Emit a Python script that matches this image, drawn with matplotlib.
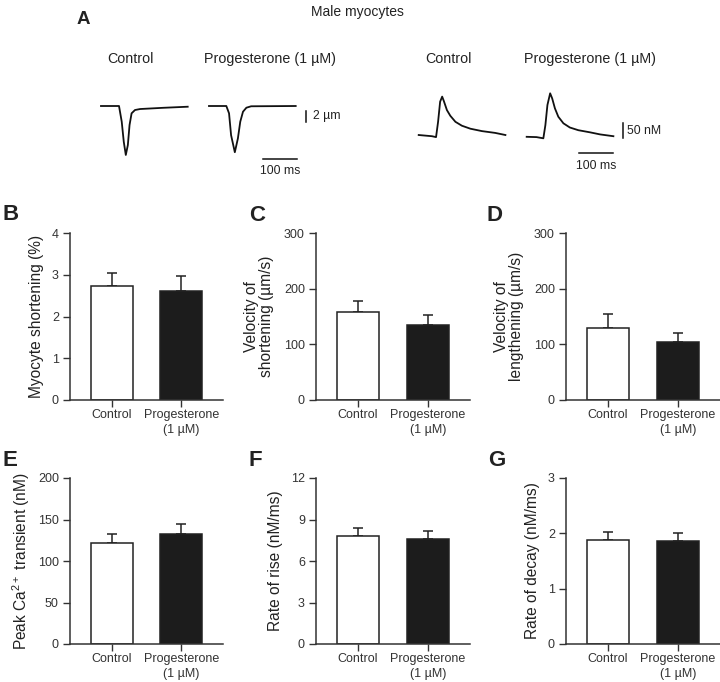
import matplotlib
matplotlib.use('Agg')
import matplotlib.pyplot as plt

plt.rcParams['font.family'] = ['Liberation Sans', 'DejaVu Sans']
plt.rcParams['mathtext.default'] = 'regular'
plt.rcParams['text.color'] = '#222222'
plt.rcParams['axes.labelcolor'] = '#222222'
plt.rcParams['xtick.color'] = '#333333'
plt.rcParams['ytick.color'] = '#333333'

# ---- data -----------------------------------------------------------------
groups = ['Control', 'Progesterone\n(1 µM)']

shortening_mean = [2.72, 2.62]
shortening_sem = [0.32, 0.36]
vel_short_mean = [158, 135]
vel_short_sem = [19, 17]
vel_length_mean = [130, 104]
vel_length_sem = [25, 17]
peak_ca_mean = [122, 133]
peak_ca_sem = [10, 12]
rise_mean = [7.84, 7.58]
rise_sem = [0.58, 0.60]
decay_mean = [1.88, 1.87]
decay_sem = [0.15, 0.14]

# representative traces (time in ms, cell length change in um / Ca in nM)
short_ctrl_t = [0, 53, 61, 67, 73, 79, 84, 90, 100, 115, 182, 255]
short_ctrl_y = [0, 0, -2.85, -6.5, -8.9, -7.1, -3.45, -1.33, -0.73, -0.55, -0.33, -0.13]
short_prog_t = [0, 51, 59, 65, 76, 85, 92, 100, 110, 124, 255]
short_prog_y = [0, 0, -1.33, -5.3, -8.4, -5.9, -2.85, -1.04, -0.31, -0.05, 0]
ca_ctrl_t = [0, 39, 51, 57, 63, 69, 74, 83, 93, 108, 127, 152, 186, 225, 255]
ca_ctrl_y = [0, -4, -7, 44, 111, 128, 113, 83, 64, 44, 31, 21, 13, 7, 0]
ca_prog_t = [0, 29, 49, 55, 61, 69, 75, 83, 93, 108, 127, 152, 186, 216, 255]
ca_prog_y = [0, -1, -5, 39, 106, 145, 128, 95, 67, 45, 31, 22, 15, 8, 2]

W, H = 720, 682
fig = plt.figure(figsize=(W / 100, H / 100), dpi=100)


def px_axes(x0, y0, x1, y1):
    return fig.add_axes([x0 / W, 1 - y1 / H, (x1 - x0) / W, (y1 - y0) / H])


def ftext(x, y, s, **kw):
    fig.text(x / W, 1 - y / H, s, **kw)


# ---- panel A --------------------------------------------------------------
ftext(77, 19, 'A', fontsize=13.5, fontweight='bold', va='center', ha='left')
ftext(357, 12, 'Male myocytes', fontsize=10, ha='center', va='center')
for xc, s in [(130, 'Control'), (270, 'Progesterone (1 µM)'),
              (448, 'Control'), (590, 'Progesterone (1 µM)')]:
    ftext(xc, 59, s, fontsize=10.3, ha='center', va='center')

offset = 317.6
lw_tr = 1.3

ax = px_axes(95, 95, 340, 180)
ax.plot(short_ctrl_t, short_ctrl_y, color='#111111', lw=lw_tr)
ax.plot([t + offset for t in short_prog_t], short_prog_y, color='#111111', lw=lw_tr)
ax.plot([603, 603], [-0.91, -2.91], color='#111111', lw=1.1)
ax.text(623, -1.9, '2 µm', fontsize=8.8, va='center', ha='left')
ax.plot([476.5, 576.5], [-9.64, -9.64], color='#111111', lw=1.1)
ax.text(526.5, -11.9, '100 ms', fontsize=8.8, va='center', ha='center')
ax.set_xlim(-17.6, 702.9)
ax.set_ylim(-13.45, 2)
ax.axis('off')

ax = px_axes(410, 85, 650, 175)
ax.plot(ca_ctrl_t, ca_ctrl_y, color='#111111', lw=lw_tr)
ax.plot([t + offset for t in ca_prog_t], [v - 6 for v in ca_prog_y], color='#111111', lw=lw_tr)
ax.plot([601, 601], [40, -10], color='#111111', lw=1.1)
ax.text(613, 15, '50 nM', fontsize=8.8, va='center', ha='left')
ax.plot([471.5, 571.5], [-60, -60], color='#111111', lw=1.1)
ax.text(521.5, -103, '100 ms', fontsize=8.8, va='center', ha='center')
ax.set_xlim(-25.6, 680.3)
ax.set_ylim(-133.3, 166.7)
ax.axis('off')


# ---- bar panels -----------------------------------------------------------
def bar_panel(rect, mean, sem, ymax, yticks, ylabel, letter, letter_xy, pad=4):
    ax = px_axes(*rect)
    x = [0, 1]
    ax.errorbar(x, mean, yerr=[[0, 0], sem], fmt='none', ecolor='#222222',
                elinewidth=1.1, capsize=3.8, capthick=1.1, zorder=1)
    ax.bar(x, mean, width=0.6, color=['white', '#1c1c1c'],
           edgecolor='#222222', linewidth=1.1, zorder=2)
    ax.set_xlim(-0.6, 1.6)
    ax.set_ylim(0, ymax)
    ax.set_yticks(yticks)
    ax.set_xticks(x)
    ax.set_xticklabels(groups, fontsize=9, linespacing=1.35)
    ax.tick_params(axis='y', labelsize=9, length=5, width=1, pad=3)
    ax.tick_params(axis='x', length=5, width=1, pad=1.5)
    for side in ['top', 'right']:
        ax.spines[side].set_visible(False)
    for side in ['left', 'bottom']:
        ax.spines[side].set_linewidth(1.1)
        ax.spines[side].set_color('#333333')
    ax.set_ylabel(ylabel, fontsize=11.2, linespacing=1.0, labelpad=pad)
    ftext(letter_xy[0], letter_xy[1], letter, fontsize=16, fontweight='bold',
          ha='left', va='center')
    return ax


top_y = (233, 400)
bot_y = (478, 644)
bar_panel((70, top_y[0], 223, top_y[1]), shortening_mean, shortening_sem, 4,
          [0, 1, 2, 3, 4], 'Myocyte shortening (%)', 'B', (2, 215), pad=6)
bar_panel((316, top_y[0], 470, top_y[1]), vel_short_mean, vel_short_sem, 300,
          [0, 100, 200, 300], 'Velocity of\nshortening (µm/s)', 'C', (249, 216), pad=7)
bar_panel((566, top_y[0], 720, top_y[1]), vel_length_mean, vel_length_sem, 300,
          [0, 100, 200, 300], 'Velocity of\nlengthening (µm/s)', 'D', (486, 216), pad=7)
bar_panel((70, bot_y[0], 223, bot_y[1]), peak_ca_mean, peak_ca_sem, 200,
          [0, 50, 100, 150, 200], 'Peak Ca$^{2+}$ transient (nM)', 'E', (2, 461))
bar_panel((316, bot_y[0], 470, bot_y[1]), rise_mean, rise_sem, 12,
          [0, 3, 6, 9, 12], 'Rate of rise (nM/ms)', 'F', (248, 460), pad=6)
bar_panel((566, bot_y[0], 720, bot_y[1]), decay_mean, decay_sem, 3,
          [0, 1, 2, 3], 'Rate of decay (nM/ms)', 'G', (488, 460), pad=6)

fig.savefig('out.png', dpi=100)
